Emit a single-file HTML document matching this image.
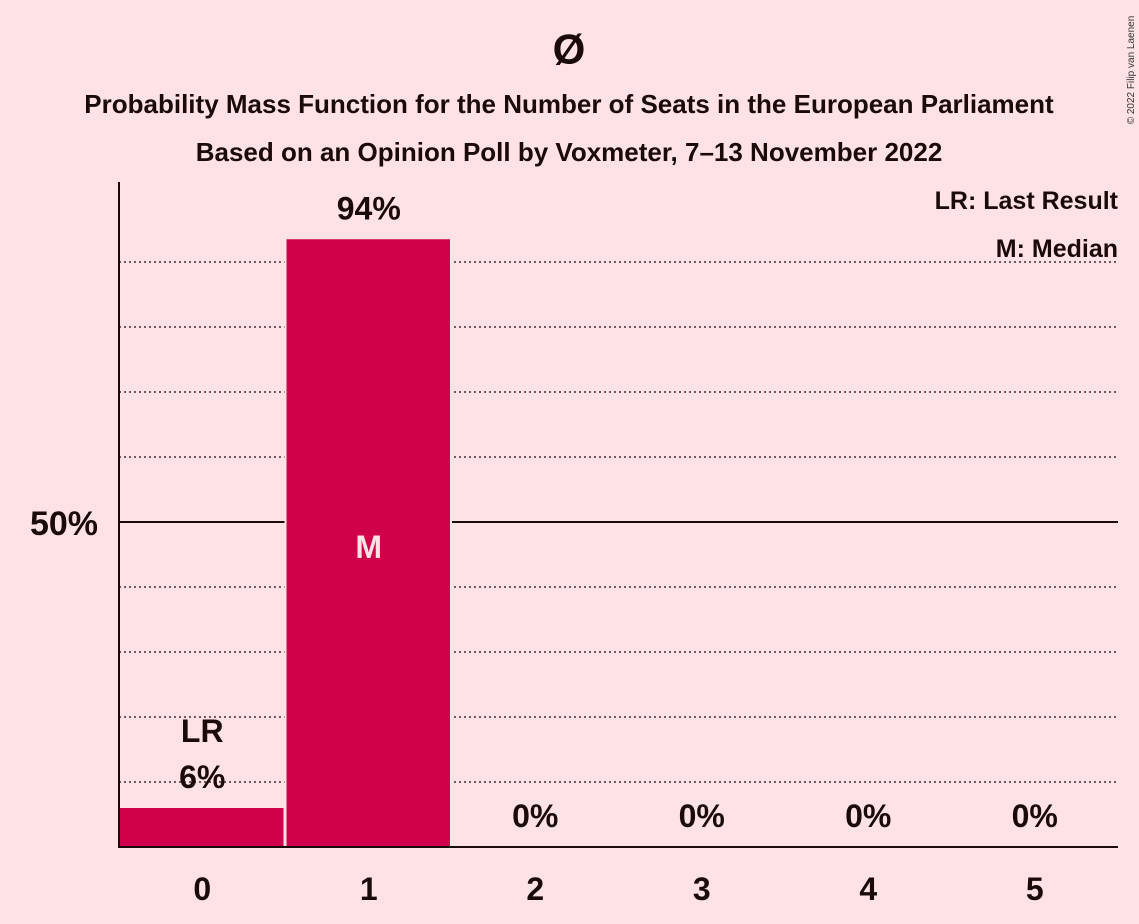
<!DOCTYPE html>
<html><head><meta charset="utf-8"><style>
html,body{margin:0;padding:0;background:#ffe2e6;}
svg{display:block;font-family:"Liberation Sans",sans-serif;font-weight:bold;}
</style></head><body>
<svg id="chart" width="1139" height="924" viewBox="0 0 1139 924">
<rect width="1139" height="924" fill="#ffe2e6"/>
<text x="569" y="64" text-anchor="middle" font-size="42" fill="#1a0a0a">Ø</text>
<text x="569" y="113" text-anchor="middle" font-size="26" fill="#1a0a0a">Probability Mass Function for the Number of Seats in the European Parliament</text>
<text x="569" y="161" text-anchor="middle" font-size="26" fill="#1a0a0a">Based on an Opinion Poll by Voxmeter, 7–13 November 2022</text>
<text transform="translate(1134,70) rotate(-90)" text-anchor="middle" font-size="10" font-weight="normal" fill="#333">© 2022 Filip van Laenen</text>
<g id="grid"></g>
<g id="bars"></g>
<g id="labels"></g>
<line x1="119" y1="182" x2="119" y2="848" stroke="#1a0a0a" stroke-width="2"/>
<line x1="118" y1="847" x2="1118" y2="847" stroke="#1a0a0a" stroke-width="2"/>
<text x="98" y="535" text-anchor="end" font-size="34" fill="#1a0a0a">50%</text>
<text x="1118" y="209" text-anchor="end" font-size="25" fill="#1a0a0a">LR: Last Result</text>
<text x="1118" y="257" text-anchor="end" font-size="25" fill="#1a0a0a">M: Median</text>
</svg>
<script>
const categories=[0,1,2,3,4,5];
const values=[6,93.5,0,0,0,0];
const valueLabels=["6%","94%","0%","0%","0%","0%"];
const lastResult=0;
const median=1;
const gridTicks=[10,20,30,40,60,70,80,90];
const NS="http://www.w3.org/2000/svg";
const x0=119,x1=1118,yBase=847,yTop=197;
const bw=(x1-x0)/categories.length;
const y=v=>yBase-(v/100)*(yBase-yTop);
const xs=i=>x0+i*bw;
function mk(t,a,p){const e=document.createElementNS(NS,t);for(const k in a)e.setAttribute(k,a[k]);p.appendChild(e);return e;}
const g=document.getElementById('grid'),b=document.getElementById('bars'),l=document.getElementById('labels');
gridTicks.forEach(t=>{const e=mk('line',{x1:x0,x2:x1,y1:y(t),y2:y(t),stroke:'#1a0a0a','stroke-width':1.2,'stroke-dasharray':'2,3'},g);

});
const m=mk('line',{x1:x0,x2:x1,y1:y(50),y2:y(50),stroke:'#1a0a0a','stroke-width':2},g);


categories.forEach((c,i)=>{
 const bx=xs(i)+1,w=bw-3;
 if(values[i]>0){
  const bg=mk('rect',{x:bx-2,y:y(values[i])-2,width:w+4,height:yBase-y(values[i])+2,fill:'#ffe2e6'},b);
  
  
  const r=mk('rect',{x:bx,y:y(values[i]),width:w,height:yBase-y(values[i]),fill:'#d0004a'},b);
  
  
 }
 const cx=xs(i)+bw/2;
 const tk=mk('text',{x:cx,y:900,'text-anchor':'middle','font-size':32,fill:'#1a0a0a'},l);tk.textContent=c;
 
 
 let vy=values[i]>0?y(values[i])-20:yBase-20;
 const vt=mk('text',{x:cx,y:vy,'text-anchor':'middle','font-size':32,fill:'#1a0a0a'},l);vt.textContent=valueLabels[i];
 
 
 if(i===lastResult){const t=mk('text',{x:cx,y:vy-46,'text-anchor':'middle','font-size':32,fill:'#1a0a0a'},l);t.textContent='LR';
  
  }
 if(i===median){const t=mk('text',{x:cx,y:y(50)+36,'text-anchor':'middle','font-size':32,fill:'#ffe2e6'},l);t.textContent='M';
  
  }
});
</script>
</body></html>
